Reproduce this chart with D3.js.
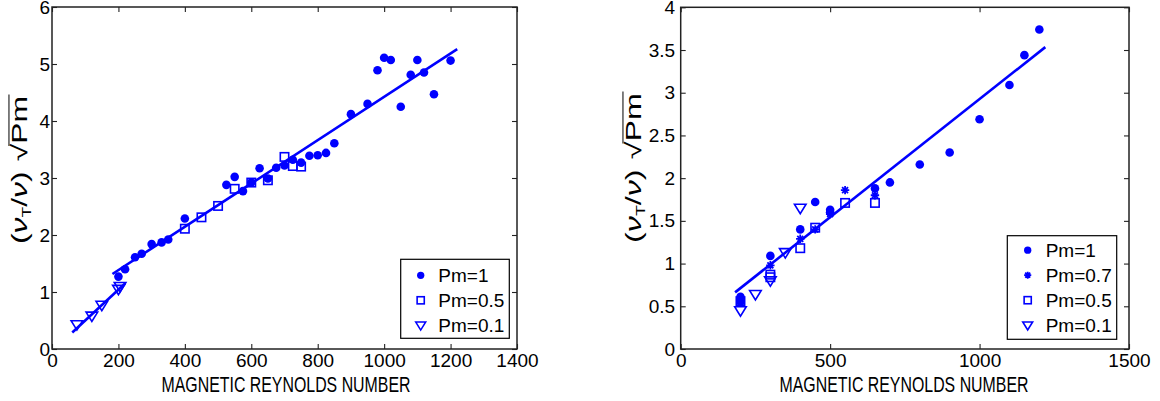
<!DOCTYPE html>
<html>
<head>
<meta charset="utf-8">
<script src="https://cdn.jsdelivr.net/npm/d3@7"></script>
<style>
  html, body { margin: 0; padding: 0; background: #fff; }
  svg { display: block; }
  text { font-family: 'Liberation Sans', Arial, Helvetica, sans-serif; fill: #000; }
</style>
</head>
<body>
<svg id="chart" width="1160" height="401"></svg>
<script>
// ---------------- DATA ----------------
// Left panel
const leftXTicks = [0, 200, 400, 600, 800, 1000, 1200, 1400];
const leftYTicks = [0, 1, 2, 3, 4, 5, 6];
const leftPm1X = [200, 220, 250, 270, 300, 330, 350, 400, 525, 550, 575, 600, 625, 650, 675, 700, 725, 750, 775, 800, 825, 850, 900, 950, 980, 1000, 1020, 1050, 1080, 1100, 1120, 1150, 1200];
const leftPm1Y = [1.27, 1.40, 1.61, 1.67, 1.84, 1.87, 1.92, 2.29, 2.88, 3.02, 2.77, 2.92, 3.17, 2.99, 3.18, 3.22, 3.32, 3.27, 3.39, 3.40, 3.44, 3.61, 4.12, 4.30, 4.89, 5.11, 5.07, 4.25, 4.81, 5.07, 4.85, 4.47, 5.06];
const leftPm05X = [400, 450, 500, 550, 600, 650, 700, 725, 750];
const leftPm05Y = [2.11, 2.31, 2.51, 2.81, 2.92, 2.96, 3.37, 3.21, 3.20];
const leftPm01X = [75, 120, 150, 200, 205];
const leftPm01Y = [0.43, 0.58, 0.77, 1.05, 1.10];
const leftFit1X = [61, 220];
const leftFit1Y = [0.29, 1.15];
const leftFit2X = [182, 1220];
const leftFit2Y = [1.316, 5.26];

// Right panel
const rightXTicks = [0, 500, 1000, 1500];
const rightYTicks = [0, 0.5, 1, 1.5, 2, 2.5, 3, 3.5, 4];
const rightPm1X = [200, 200, 300, 400, 450, 500, 500, 650, 700, 800, 900, 1000, 1100, 1150, 1200];
const rightPm1Y = [0.61, 0.55, 1.09, 1.40, 1.72, 1.63, 1.60, 1.88, 1.95, 2.16, 2.30, 2.69, 3.09, 3.44, 3.74];
const rightPm07X = [200, 300, 400, 450, 500, 550, 650];
const rightPm07Y = [0.59, 0.98, 1.29, 1.40, 1.58, 1.86, 1.80];
const rightPm05X = [200, 300, 300, 400, 450, 550, 650];
const rightPm05Y = [0.56, 0.87, 0.84, 1.18, 1.42, 1.71, 1.71];
const rightPm01X = [200, 250, 300, 350, 400];
const rightPm01Y = [0.45, 0.64, 0.80, 1.13, 1.65];
const rightFitX = [182, 1220];
const rightFitY = [0.663, 3.534];

const xLabel = "MAGNETIC REYNOLDS NUMBER";
const leftLegend = ["Pm=1", "Pm=0.5", "Pm=0.1"];
const rightLegend = ["Pm=1", "Pm=0.7", "Pm=0.5", "Pm=0.1"];

// ---------------- DRAWING ----------------
const BLUE = "#0000ff";
const svg = d3.select("#chart");

function zip(xs, ys) { return xs.map((x, i) => [x, ys[i]]); }

function marker(g, type, x, y, s) {
  if (type === "dot") {
    g.append("circle").attr("cx", x).attr("cy", y).attr("r", 4.3 * s).attr("fill", BLUE);
  } else if (type === "square") {
    const h = 4.2 * s;
    g.append("rect").attr("x", x - h).attr("y", y - h).attr("width", 2 * h).attr("height", 2 * h)
      .attr("fill", "none").attr("stroke", BLUE).attr("stroke-width", 1.6);
  } else if (type === "tri") {
    const w = 5.8 * s, hU = 3.8 * s, hD = 5.6 * s;
    g.append("path").attr("d", `M${x - w},${y - hU}L${x + w},${y - hU}L${x},${y + hD}Z`)
      .attr("fill", "none").attr("stroke", BLUE).attr("stroke-width", 1.6);
  } else if (type === "star") {
    const r = 4.2 * s;
    let d = "";
    for (let k = 0; k < 4; k++) {
      const a = k * Math.PI / 4;
      d += `M${x - r * Math.cos(a)},${y - r * Math.sin(a)}L${x + r * Math.cos(a)},${y + r * Math.sin(a)}`;
    }
    g.append("path").attr("d", d).attr("stroke", BLUE).attr("stroke-width", 1.8).attr("fill", "none");
  }
}

function panel(cfg) {
  const x = d3.scaleLinear().domain(cfg.xDomain).range([cfg.x0, cfg.x1]);
  const y = d3.scaleLinear().domain(cfg.yDomain).range([cfg.y1, cfg.y0]);
  const g = svg.append("g");

  // data
  const line = d3.line().x(d => x(d[0])).y(d => y(d[1]));
  cfg.fits.forEach(f => {
    g.append("path").attr("d", line(zip(f[0], f[1]))).attr("fill", "none")
      .attr("stroke", BLUE).attr("stroke-width", 2.6);
  });
  cfg.series.forEach(s => {
    zip(s.x, s.y).forEach(p => marker(g, s.type, x(p[0]), y(p[1]), 1));
  });

  // axes (MATLAB box, inward ticks)
  const fmt = d => String(d);
  const axB = g.append("g").attr("transform", `translate(0,${cfg.y1})`)
    .call(d3.axisBottom(x).tickValues(cfg.xTicks).tickSizeInner(-5).tickSizeOuter(0).tickPadding(5).tickFormat(fmt));
  const axL = g.append("g").attr("transform", `translate(${cfg.x0},0)`)
    .call(d3.axisLeft(y).tickValues(cfg.yTicks).tickSizeInner(-5).tickSizeOuter(0).tickPadding(cfg.yPad).tickFormat(fmt));
  const axT = g.append("g").attr("transform", `translate(0,${cfg.y0})`)
    .call(d3.axisTop(x).tickValues(cfg.xTicks).tickSizeInner(-5).tickSizeOuter(0).tickFormat(""));
  const axR = g.append("g").attr("transform", `translate(${cfg.x1},0)`)
    .call(d3.axisRight(y).tickValues(cfg.yTicks).tickSizeInner(-5).tickSizeOuter(0).tickFormat(""));
  [axB, axL, axT, axR].forEach(a => {
    a.select(".domain").remove();
    a.selectAll(".tick line").attr("stroke", "#222").attr("stroke-width", 1.1);
    a.selectAll("text").attr("font-size", 19).attr("fill", "#000")
      .attr("font-family", "'Liberation Sans', Arial, sans-serif");
  });
  axB.selectAll("text").attr("dy", "0.71em");
  g.append("rect").attr("x", cfg.x0).attr("y", cfg.y0).attr("width", cfg.x1 - cfg.x0)
    .attr("height", cfg.y1 - cfg.y0).attr("fill", "none").attr("stroke", "#222").attr("stroke-width", 1.5);

  // x label
  g.append("text").attr("x", cfg.xLabelX).attr("y", 392).attr("text-anchor", "middle")
    .attr("font-size", 22.5).attr("textLength", 249).attr("lengthAdjust", "spacingAndGlyphs").text(xLabel);

  // y label (rotated)
  const yl = g.append("g");
  const inner = yl.append("g");
  const fs = 22;
  const t1 = inner.append("text").attr("font-family", "'Liberation Serif', 'DejaVu Serif', serif").attr("font-size", fs);
  t1.append("tspan").text("(");
  t1.append("tspan").attr("font-style", "italic").text("ν");
  t1.append("tspan").attr("font-size", fs * 0.55).attr("dy", 4).text("T");
  t1.append("tspan").attr("dy", -4).text("/");
  t1.append("tspan").attr("font-style", "italic").text("ν");
  t1.append("tspan").text(")");
  const w1 = t1.node().getComputedTextLength();
  const gap = 7;
  const sq = inner.append("text").attr("font-family", "'DejaVu Serif', serif").attr("font-size", fs)
    .attr("font-weight", 300).attr("x", w1 + gap).text("√");
  const w2 = sq.node().getComputedTextLength();
  const pm = inner.append("text").attr("font-family", "'Liberation Serif', serif").attr("font-size", fs)
    .attr("x", w1 + gap + w2).text("Pm");
  const w3 = pm.node().getComputedTextLength();
  inner.append("line").attr("x1", w1 + gap + w2 - 1.5).attr("x2", w1 + gap + w2 + w3 + 1)
    .attr("y1", -fs * 0.82).attr("y2", -fs * 0.82).attr("stroke", "#000").attr("stroke-width", 1);
  const W = w1 + gap + w2 + w3;
  const sc = cfg.yLabelLen / W;
  inner.attr("transform", `scale(${sc},1) translate(${-W / 2},0)`);
  yl.attr("transform", `translate(${cfg.yLabelX},${cfg.yLabelY}) rotate(-90)`);

  // legend
  const lg = g.append("g");
  lg.append("rect").attr("x", cfg.leg.x).attr("y", cfg.leg.y).attr("width", cfg.leg.w).attr("height", cfg.leg.h)
    .attr("fill", "#fff").attr("stroke", "#000").attr("stroke-width", 1.2);
  cfg.legItems.forEach((it, i) => {
    const cy = cfg.leg.y + cfg.leg.first + i * 25;
    marker(lg, it.type, cfg.leg.mx, cy, 0.85);
    lg.append("text").attr("x", cfg.leg.tx).attr("y", cy).attr("dy", "0.36em")
      .attr("font-size", 19).text(it.label);
  });
}

panel({
  x0: 52, x1: 517, y0: 7, y1: 349,
  xDomain: [0, 1400], yDomain: [0, 6],
  xTicks: leftXTicks, yTicks: leftYTicks, yPad: 2,
  fits: [[leftFit1X, leftFit1Y], [leftFit2X, leftFit2Y]],
  series: [
    { type: "dot", x: leftPm1X, y: leftPm1Y },
    { type: "square", x: leftPm05X, y: leftPm05Y },
    { type: "tri", x: leftPm01X, y: leftPm01Y }
  ],
  xLabelX: 286, yLabelX: 27, yLabelY: 170, yLabelLen: 148,
  leg: { x: 400.7, y: 259.3, w: 108.6, h: 79, first: 16, mx: 420.7, tx: 438.3 },
  legItems: [
    { type: "dot", label: leftLegend[0] },
    { type: "square", label: leftLegend[1] },
    { type: "tri", label: leftLegend[2] }
  ]
});

panel({
  x0: 680.7, x1: 1129, y0: 7.3, y1: 349,
  xDomain: [0, 1500], yDomain: [0, 4],
  xTicks: rightXTicks, yTicks: rightYTicks, yPad: 5.5,
  fits: [[rightFitX, rightFitY]],
  series: [
    { type: "dot", x: rightPm1X, y: rightPm1Y },
    { type: "star", x: rightPm07X, y: rightPm07Y },
    { type: "square", x: rightPm05X, y: rightPm05Y },
    { type: "tri", x: rightPm01X, y: rightPm01Y }
  ],
  xLabelX: 904, yLabelX: 641, yLabelY: 168, yLabelLen: 150,
  leg: { x: 1007.3, y: 235.7, w: 109.4, h: 103.6, first: 14.5, mx: 1027.7, tx: 1045.7 },
  legItems: [
    { type: "dot", label: rightLegend[0] },
    { type: "star", label: rightLegend[1] },
    { type: "square", label: rightLegend[2] },
    { type: "tri", label: rightLegend[3] }
  ]
});
</script>
</body>
</html>
